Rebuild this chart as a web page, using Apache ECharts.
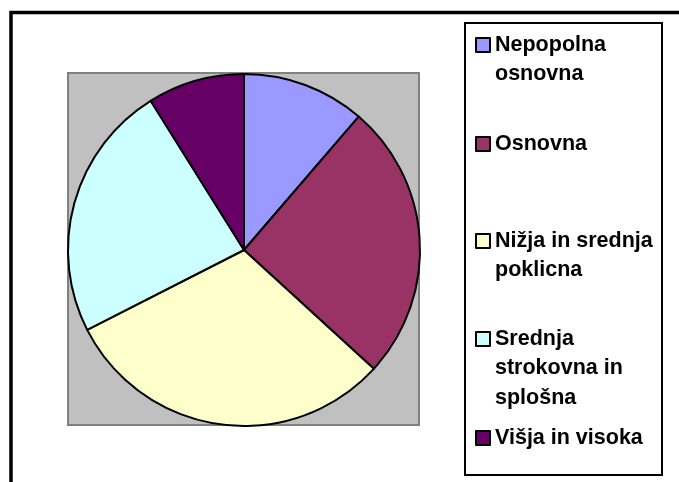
<!DOCTYPE html>
<html>
<head>
<meta charset="utf-8">
<script src="https://cdn.jsdelivr.net/npm/echarts@6/dist/echarts.min.js"></script>
<style>
	html, body { margin: 0; padding: 0; background: #ffffff; }
	#chart { width: 679px; height: 482px; }
</style>
</head>
<body>
<div id="chart"></div>
<script>
	// podatki razbrani s slike (deleži v %)
	var categories = ['Nepopolna osnovna', 'Osnovna', 'Nižja in srednja poklicna', 'Srednja strokovna in splošna', 'Višja in visoka'];
	var values = [11.3, 25.5, 30.7, 23.6, 8.9];
	var colors = ['#9999FF', '#993366', '#FFFFCC', '#CCFFFF', '#660066'];
	// prelomi vrstic v legendi, kot na sliki
	var legendLabels = ['Nepopolna\nosnovna', 'Osnovna', 'Nižja in srednja\npoklicna', 'Srednja\nstrokovna in\nsplošna', 'Višja in visoka'];
	var legendTops = [44, 143, 240, 338, 437]; // sredina prve vrstice

	var lineH = 29.5;
	var box = 14;

	// ikona: kvadratek ob prvi vrstici, visoka kot celotno besedilo
	function tallIcon(h) {
		var y = (lineH - box) / 2;
		return 'path://M0,0M0,' + y + 'h' + box + 'v' + box + 'h-' + box + 'zM' + box + ',' + h;
	}

	var legends = categories.map(function (name, i) {
		var lines = legendLabels[i].split('\n').length;
		var h = lines * lineH;
		return {
			data: [name],
			orient: 'vertical',
			left: 475,
			top: legendTops[i] - lineH / 2,
			padding: 0,
			icon: tallIcon(h),
			itemWidth: box,
			itemHeight: h,
			itemGap: 0,
			selectedMode: false,
			itemStyle: { borderColor: '#000', borderWidth: 2 },
			formatter: function () { return legendLabels[i]; },
			textStyle: {
				color: '#000',
				fontFamily: 'Liberation Sans',
				fontWeight: 'bold',
				fontSize: 21.5,
				lineHeight: lineH
			}
		};
	});

	var chart = echarts.init(document.getElementById('chart'));
	chart.setOption({
		animation: false,
		backgroundColor: '#ffffff',
		color: colors,
		grid: {
			show: true,
			left: 68,
			top: 73,
			width: 351,
			height: 352,
			backgroundColor: '#C0C0C0',
			borderColor: '#808080',
			borderWidth: 2
		},
		xAxis: { show: false, type: 'value' },
		yAxis: { show: false, type: 'value' },
		legend: legends,
		graphic: [{
			type: 'rect',
			shape: { x: 11, y: 12.5, width: 720, height: 520 },
			style: { fill: 'none', stroke: '#000', lineWidth: 3.5 },
			silent: true
		}, {
			type: 'rect',
			shape: { x: 465, y: 23, width: 197, height: 452 },
			style: { fill: 'none', stroke: '#000', lineWidth: 2 },
			silent: true
		}],
		series: [{
			type: 'pie',
			center: [244, 250],
			radius: [0, 176],
			startAngle: 90,
			clockwise: true,
			label: { show: false },
			labelLine: { show: false },
			emphasis: { disabled: true },
			itemStyle: { borderColor: '#000', borderWidth: 2 },
			data: categories.map(function (name, i) {
				return { name: name, value: values[i] };
			})
		}]
	});
</script>
</body>
</html>
